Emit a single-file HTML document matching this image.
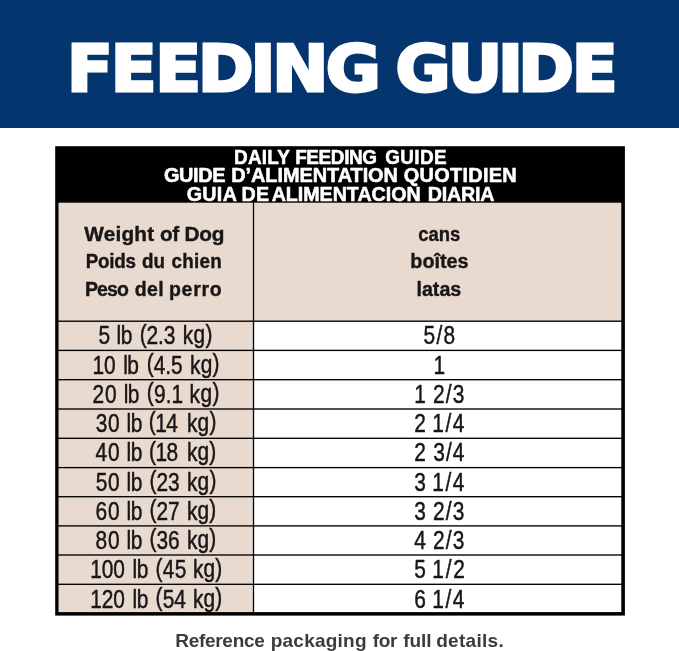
<!DOCTYPE html>
<html lang="en">
<head>
<meta charset="utf-8">
<title>Feeding Guide</title>
<style>
  html, body { margin: 0; padding: 0; background: #fff; }
  body { width: 679px; height: 651px; overflow: hidden; position: relative;
         font-family: "Liberation Sans", sans-serif; }
  .banner { position: absolute; left: 0; top: 0; width: 679px; height: 128px; background: #04356f; }
  svg.sheet { position: absolute; left: 0; top: 0; width: 679px; height: 651px; overflow: visible; }
  svg.sheet text { font-family: "Liberation Sans", sans-serif; white-space: pre; }
  .frame { fill: #000; }
  .beige { fill: #e9dad0; }
  .white { fill: #fff; }
  svg.sheet text.title { font-family: "DejaVu Sans", "Liberation Sans", sans-serif; font-weight: 700; font-size: 64.5px; fill: #fff; stroke: #fff; stroke-width: 3.0px; stroke-linejoin: miter; }
  svg.sheet text.hd { font-weight: 700; font-size: 19.3px; fill: #fff; stroke: #fff; stroke-width: 0.55px; stroke-linejoin: round; }
  svg.sheet text.col { font-weight: 700; font-size: 20.8px; fill: #191616; stroke: #191616; stroke-width: 0.4px; stroke-linejoin: round; }
  svg.sheet text.row { font-weight: 400; font-size: 25.5px; fill: #191616; stroke: #191616; stroke-width: 0.48px; stroke-linejoin: round; }
  svg.sheet text.foot { font-weight: 700; font-size: 19.1px; fill: #3b3b3b; stroke: none; stroke-width: 0; }
</style>
</head>
<body>
<div class="banner"></div>
<svg class="sheet" viewBox="0 0 679 651" width="679" height="651">
<g class="heading">
<text class="title" transform="scale(1.04 1)" y="91.45" x="64.49 106.58 149.4 190.51 240.9 261.71 313.34 365.38 380.26 430.54 478.83 498.25 549.79">FEEDING GUIDE</text>
</g>
<g class="table">
<rect class="frame" x="55.2" y="146.2" width="569.7" height="469.4"/>
<rect class="beige" x="58.5" y="202.7" width="194.35" height="117.82"/>
<rect class="beige" x="254.15" y="202.7" width="367.15" height="117.82"/>
<rect class="beige" x="58.5" y="321.88" width="194.35" height="27.84"/>
<rect class="white" x="254.15" y="321.88" width="367.15" height="27.84"/>
<rect class="beige" x="58.5" y="351.08" width="194.35" height="27.94"/>
<rect class="white" x="254.15" y="351.08" width="367.15" height="27.94"/>
<rect class="beige" x="58.5" y="380.38" width="194.35" height="27.94"/>
<rect class="white" x="254.15" y="380.38" width="367.15" height="27.94"/>
<rect class="beige" x="58.5" y="409.68" width="194.35" height="27.94"/>
<rect class="white" x="254.15" y="409.68" width="367.15" height="27.94"/>
<rect class="beige" x="58.5" y="438.98" width="194.35" height="27.94"/>
<rect class="white" x="254.15" y="438.98" width="367.15" height="27.94"/>
<rect class="beige" x="58.5" y="468.28" width="194.35" height="27.74"/>
<rect class="white" x="254.15" y="468.28" width="367.15" height="27.74"/>
<rect class="beige" x="58.5" y="497.38" width="194.35" height="27.84"/>
<rect class="white" x="254.15" y="497.38" width="367.15" height="27.84"/>
<rect class="beige" x="58.5" y="526.58" width="194.35" height="27.74"/>
<rect class="white" x="254.15" y="526.58" width="367.15" height="27.74"/>
<rect class="beige" x="58.5" y="555.68" width="194.35" height="27.94"/>
<rect class="white" x="254.15" y="555.68" width="367.15" height="27.94"/>
<rect class="beige" x="58.5" y="584.98" width="194.35" height="27.12"/>
<rect class="white" x="254.15" y="584.98" width="367.15" height="27.12"/>
</g>
<g class="table-title">
<text class="hd" transform="translate(234.12 163.9) scale(0.9799 1)" dx="0 0.21 0.21 0.21 0.21 0 0.33 -0.38 -0.38 -0.38 -0.38 -0.38 -0.38 0 3.05 0.36 0.36 0.36 0.36">DAILY FEEDING GUIDE</text>
<text class="hd" transform="translate(163.88 182.2) scale(1.0329 1)" dx="0 -0.38 -0.38 -0.38 -0.38 0 0.16 -0.06 -0.06 -0.06 -0.06 -0.06 -0.06 -0.06 -0.06 -0.06 -0.06 -0.06 -0.06 -0.06 0 0.16 0.28 0.28 0.28 0.28 0.28 0.28 0.28 0.28">GUIDE D’ALIMENTATION QUOTIDIEN</text>
<text class="hd" transform="translate(186.69 200.9) scale(1.0199 1)" dx="0 0.31 0.31 0.31 0 -0.12 0.34 0 -2.21 -0.04 -0.04 -0.04 -0.04 -0.04 -0.04 -0.04 -0.04 -0.04 -0.04 -0.04 0 1.48 -0.17 -0.17 -0.17 -0.17 -0.17">GUIA DE ALIMENTACION DIARIA</text>
</g>
<g class="column-heads">
<text class="col" transform="translate(84.3 240.7) scale(0.9992 1)" dx="0 0.18 0.18 0.18 0.18 0.18 0 0.21 -0.54 0 -0.55 -0.19 -0.19">Weight of Dog</text>
<text class="col" transform="translate(85.67 268.1) scale(0.9046 1)" dx="0 -0.28 -0.28 -0.28 -0.28 0 0.96 0.02 0 1.34 0.28 0.28 0.28 0.28">Poids du chien</text>
<text class="col" transform="translate(85.06 295.6) scale(0.9378 1)" dx="0 -1.01 -1.01 -1.01 0 0.57 0.34 0.34 0 -0.04 0.73 0.73 0.73 0.73">Peso del perro</text>
<text class="col" transform="translate(418.26 240.7) scale(0.8886 1)">cans</text>
<text class="col" transform="translate(410.31 268.1) scale(0.9519 1)">boîtes</text>
<text class="col" transform="translate(416.42 295.6) scale(0.9473 1)">latas</text>
</g>
<g class="table-rows">
<text class="row" transform="translate(98.41 344.25) scale(0.82 1)" dx="0 0 0.87 -0.61 0 1.82 -0.1 -0.1 -0.1 0 1.84 0.34 0.34" dy="0 0 0 0 0 -1.7 1.7 0 0 0 0 -1 -0.7">5 lb (2.3 kg)</text>
<text class="row" transform="translate(423.49 344.25) scale(0.82 1)" dx="0 1.54 1.54">5/8</text>
<text class="row" transform="translate(92.47 373.5) scale(0.82 1)" dx="0 -0.14 0 2.18 -0.61 0 2.43 -0.1 -0.1 -0.1 0 2.09 0.21 0.21" dy="0 0 0 0 0 0 -1.7 1.7 0 0 0 0 -1 -0.7">10 lb (4.5 kg)</text>
<text class="row" transform="translate(433.4 373.5) scale(0.82 1)">1</text>
<text class="row" transform="translate(92.38 402.75) scale(0.82 1)" dx="0 1.18 0 1.57 -0.61 0 1.82 0.15 0.15 0.15 0 0.62 0.58 0.58" dy="0 0 0 0 0 0 -1.7 1.7 0 0 0 0 -1 -0.7">20 lb (9.1 kg)</text>
<text class="row" transform="translate(414.2 402.75) scale(0.82 1)" dx="0 0 1.65 1.48 1.48">1 2/3</text>
<text class="row" transform="translate(95.69 432) scale(0.82 1)" dx="0 0.93 0 1.32 -0.61 0 0.66 -0.61 -0.61 0 3.87 0.21 0.21" dy="0 0 0 0 0 0 -1.7 1.7 0 0 0 -1 -0.7">30 lb (14 kg)</text>
<text class="row" transform="translate(414.21 432) scale(0.82 1)" dx="0 0 0.77 1.85 1.85">2 1/4</text>
<text class="row" transform="translate(95.49 461.25) scale(0.82 1)" dx="0 1.16 0 1.32 -0.61 0 0.91 -0.61 -0.61 0 3.62 0.21 0.21" dy="0 0 0 0 0 0 -1.7 1.7 0 0 0 -1 -0.7">40 lb (18 kg)</text>
<text class="row" transform="translate(414.21 461.25) scale(0.82 1)" dx="0 0 1.89 1.29 1.29">2 3/4</text>
<text class="row" transform="translate(95.69 490.5) scale(0.82 1)" dx="0 0.93 0 1.32 -0.61 0 1.57 -0.05 -0.05 0 1.84 0.21 0.21" dy="0 0 0 0 0 0 -1.7 1.7 0 0 0 -1 -0.7">50 lb (23 kg)</text>
<text class="row" transform="translate(414.31 490.5) scale(0.82 1)" dx="0 0 0.65 1.85 1.85">3 1/4</text>
<text class="row" transform="translate(95.48 519.75) scale(0.82 1)" dx="0 1.18 0 1.32 -0.61 0 1.57 -0.05 -0.05 0 1.84 0.21 0.21" dy="0 0 0 0 0 0 -1.7 1.7 0 0 0 -1 -0.7">60 lb (27 kg)</text>
<text class="row" transform="translate(414.31 519.75) scale(0.82 1)" dx="0 0 1.52 1.48 1.48">3 2/3</text>
<text class="row" transform="translate(95.48 549) scale(0.82 1)" dx="0 1.18 0 1.32 -0.61 0 1.57 -0.05 -0.05 0 1.84 0.21 0.21" dy="0 0 0 0 0 0 -1.7 1.7 0 0 0 -1 -0.7">80 lb (36 kg)</text>
<text class="row" transform="translate(414.31 549) scale(0.82 1)" dx="0 0 1.52 1.48 1.48">4 2/3</text>
<text class="row" transform="translate(90.36 578.25) scale(0.82 1)" dx="0 -0.24 -0.24 0 2.36 -0.61 0 1.75 0.31 0.31 0 1.11 0.09 0.09" dy="0 0 0 0 0 0 0 -1.7 1.7 0 0 0 -1 -0.7">100 lb (45 kg)</text>
<text class="row" transform="translate(414.31 578.25) scale(0.82 1)" dx="0 0 0.65 2.1 2.1">5 1/2</text>
<text class="row" transform="translate(90.36 607.5) scale(0.82 1)" dx="0 -0.24 -0.24 0 2.36 -0.61 0 1.75 0.06 0.06 0 1.61 0.09 0.09" dy="0 0 0 0 0 0 0 -1.7 1.7 0 0 0 -1 -0.7">120 lb (54 kg)</text>
<text class="row" transform="translate(414.21 607.5) scale(0.82 1)" dx="0 0 0.77 1.85 1.85">6 1/4</text>
</g>
<g class="footnote">
<text class="foot" transform="translate(175.36 646.6) scale(0.9958 1)" dx="0 -0.32 -0.32 -0.32 -0.32 -0.32 -0.32 -0.32 -0.32 0 0.68 0.22 0.22 0.22 0.22 0.22 0.22 0.22 0.22 0 1.03 -0.42 -0.42 0 0.73 -0.13 -0.13 -0.13 0 -0.62 0.29 0.29 0.29 0.29 0.29 0.29 0.29">Reference packaging for full details.</text>
</g>
</svg>
</body>
</html>
